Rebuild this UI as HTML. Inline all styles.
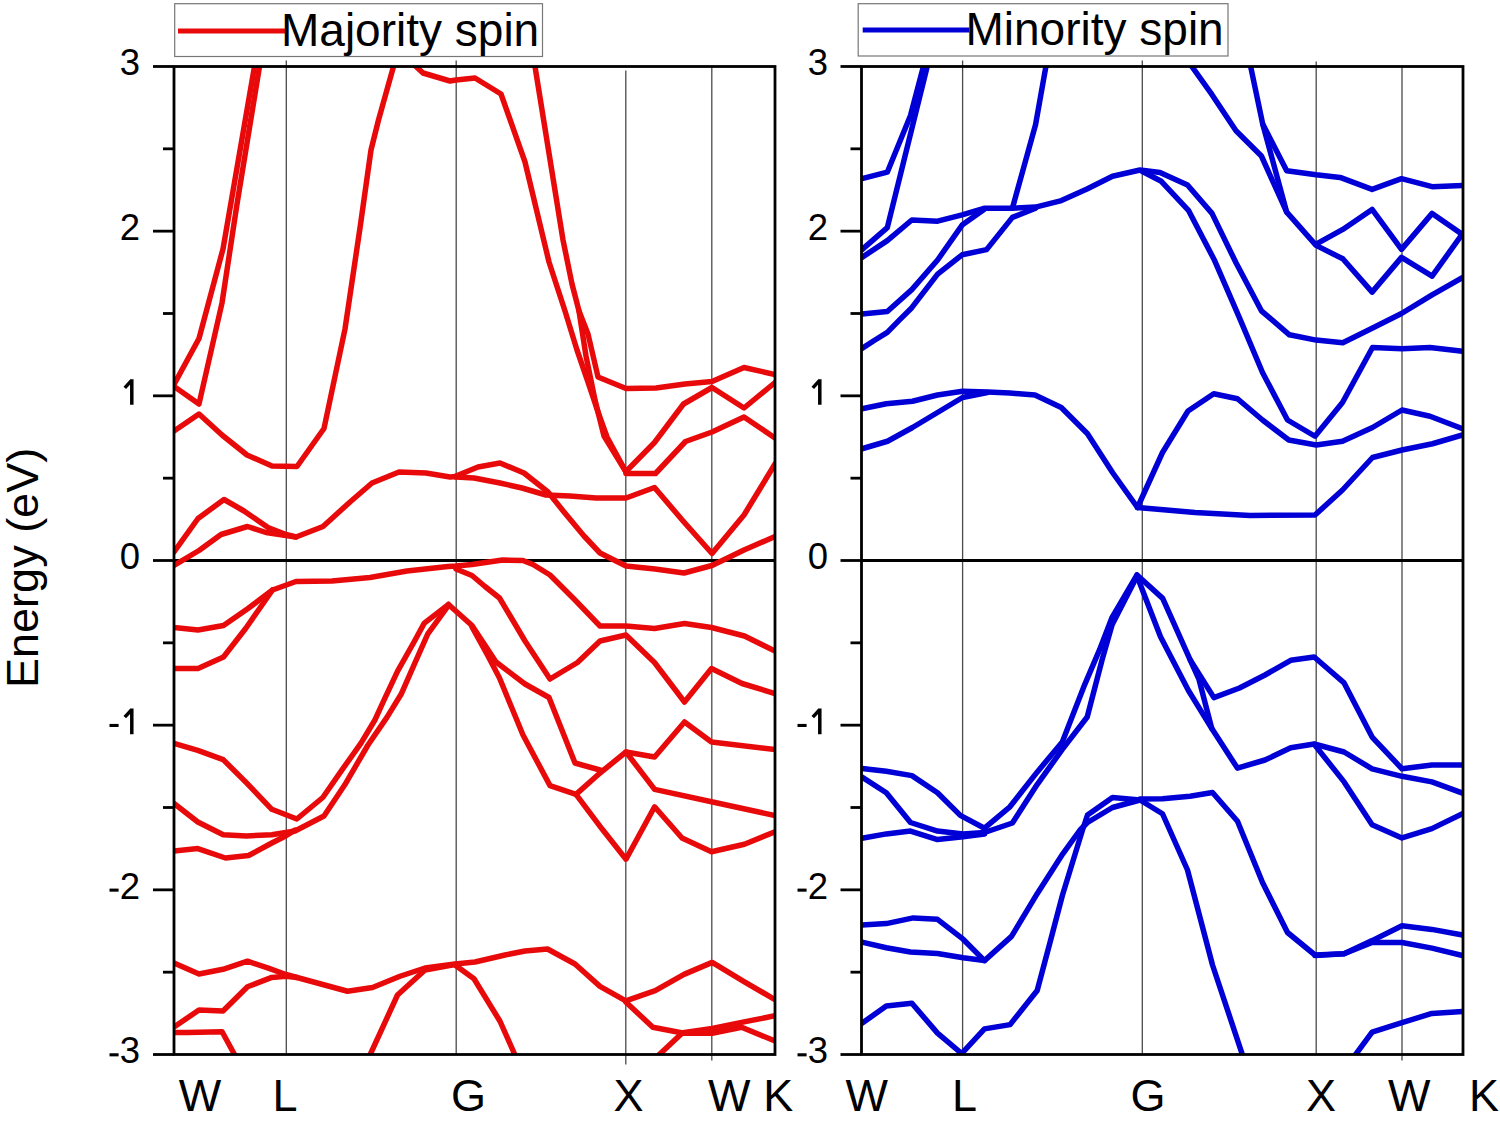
<!DOCTYPE html>
<html><head><meta charset="utf-8"><title>Band structure</title>
<style>html,body{margin:0;padding:0;background:#fff;}svg{display:block;}</style>
</head><body>
<svg width="1500" height="1124" viewBox="0 0 1500 1124">
<rect width="1500" height="1124" fill="#fff"/>
<g font-family="Liberation Sans, sans-serif" fill="#000">
<clipPath id="clip174"><rect x="174" y="66.5" width="601" height="988.0"/></clipPath>
<line x1="286.3" y1="60.5" x2="286.3" y2="1054.5" stroke="#4a4a4a" stroke-width="1.3"/>
<line x1="456.2" y1="60.5" x2="456.2" y2="1054.5" stroke="#4a4a4a" stroke-width="1.3"/>
<line x1="625.8" y1="70.5" x2="625.8" y2="1064.5" stroke="#4a4a4a" stroke-width="1.3"/>
<line x1="711.8" y1="66.5" x2="711.8" y2="1060.5" stroke="#4a4a4a" stroke-width="1.3"/>
<line x1="174" y1="560.5" x2="775" y2="560.5" stroke="#000" stroke-width="2.8"/>
<g clip-path="url(#clip174)" fill="none" stroke-width="5.5" stroke-linejoin="round" stroke-linecap="round">
<polyline points="174,384.5 199,338.5 223,249 254.5,66.5" stroke="#e80a0a"/>
<polyline points="174,386.5 199,404 222,303 237,204 259.5,66.5" stroke="#e80a0a"/>
<polyline points="174,431 199,414 222,435 247,455 272,466 297,466.5 324,428.5 345,329 360,228 371,150 378.5,120 393.5,66.5" stroke="#e80a0a"/>
<polyline points="416,66.5 423,73 450,81 456,80 475,78 501,94 525,162 549,262 565,311 577,350 588,382 597,409 607,437 626,472" stroke="#e80a0a"/>
<polyline points="535,66.5 563,240 572,284 579,311 588,334 598,377 626,388.5 656,388 685,384 712,381.5 744,367.5 775,374.5" stroke="#e80a0a"/>
<polyline points="579,311 586,356 595,400 604,436 626,472" stroke="#e80a0a"/>
<polyline points="626,471.5 654.5,442.5 683.5,404 712,387.5 744,408 775,382.5" stroke="#e80a0a"/>
<polyline points="626,473.5 655.5,473.5 685.5,441.5 712,432 744,417 775,438" stroke="#e80a0a"/>
<polyline points="174,552 198,518.5 224,499.5 244,511 268,527.5 286,534.5 296,537" stroke="#e80a0a"/>
<polyline points="174,565.5 199,550.5 221,534.5 247.5,526.5 266,532.5 286,535.5 296,537 323,526.5 350,502 372,483 399,472 426,473 450,477 456,476.5" stroke="#e80a0a"/>
<polyline points="456,476 478,467 500,463 524,473 548,492 564,512 584,536 600,553 626,566 655,569 684,573 712,565.5 744,550 775,536.5" stroke="#e80a0a"/>
<polyline points="456,477 474,478 500,483 522,488 546,495 570,496 596,498 626,498 654.5,487.5 683.5,521.5 712,553.5 744,515 775,464" stroke="#e80a0a"/>
<polyline points="174,627.5 198,630 223.5,625.5 248,608.5 272.5,590 296,581.5 332,581 370,577.5 407,571 448,566.5 456,566 472,564.5 502.5,560 523,560.5 533,564.5 550,575 575,600 600,626 626,626 654.5,628.5 684.5,623.5 711.5,627.5 744.5,636 775,651" stroke="#e80a0a"/>
<polyline points="174,668.5 198,668.5 223.5,657 246,628 272.5,590" stroke="#e80a0a"/>
<polyline points="456,569 472,575.5 485,586.5 499.5,598 512,619 525,641 550,679 577.5,662.5 600,641 626,635 654.5,662.5 684.5,702 711.5,668.5 742,683.5 775,693.5" stroke="#e80a0a"/>
<polyline points="448.5,604.5 424.3,623.1 413.6,642.7 397.6,671.1 383.4,701.4 374.9,720 361,743.1 341.3,770.9 322.8,797.5 296.8,819 271.8,809.3 246.3,782.7 223.2,759.6 197.8,750.3 174,743.5" stroke="#e80a0a"/>
<polyline points="448.5,605.5 427.8,633.8 413.6,665.8 401.1,694.3 386.9,717.4 368,745 344.8,784.8 324,816 295,831 271.8,834.7 246.3,836 223.2,834.7 197.8,822 174,803.5" stroke="#e80a0a"/>
<polyline points="174,851 197.8,848.6 225.5,858 248.6,855.5 271.8,843 285.6,836 294.9,830.1" stroke="#e80a0a"/>
<polyline points="448.5,604.5 472,625.5 496,662 525,684 549,697.5 575,763 600,770" stroke="#e80a0a"/>
<polyline points="472,627 488,656 499.5,678 523,735 550,785.6 576,794.4 600,773 626,752 654.6,757 684.5,722 711.5,742 775,749.5" stroke="#e80a0a"/>
<polyline points="576,794.4 602.3,829.3 626,859.2 654.6,806.8 682,838 711.5,851.7 744.4,844.2 775,831.7" stroke="#e80a0a"/>
<polyline points="626,752 654.6,789.4 711.5,801.8 775,815.5" stroke="#e80a0a"/>
<polyline points="174,963 199,974 223,969.3 247.5,961.2 268.3,968.2 286,974.5 320,983.75 347.5,991.25 372.5,987.5 400,976.25 425,968 455,964 475,962 505,955 525,951 547.5,949 575,964 600,986.4 625.8,1000.8 655.2,990.6 684,974.4 712.2,962.4 744,981.6 775,999.6" stroke="#e80a0a"/>
<polyline points="174,1027 199,1010 223,1011 247.5,986.7 271.8,977.4 286,976.3 297,977.4" stroke="#e80a0a"/>
<polyline points="174,1032.4 187.4,1032.4 222.1,1031.8 234.8,1055" stroke="#e80a0a"/>
<polyline points="370,1055 397.5,995 425,970 455,964.5" stroke="#e80a0a"/>
<polyline points="455,965 474,978.75 500,1021.25 515,1055" stroke="#e80a0a"/>
<polyline points="625.8,1002 652.8,1027.2 684,1033.2 712.2,1033.2 741.6,1027.2 775,1041" stroke="#e80a0a"/>
<polyline points="658.8,1055 682.8,1032.6 712.2,1028.4 741.6,1022.4 775,1015.8" stroke="#e80a0a"/>
</g>
<rect x="174" y="66.5" width="601" height="988.0" fill="none" stroke="#000" stroke-width="2.8"/>
<line x1="153" y1="1054.51" x2="174" y2="1054.51" stroke="#000" stroke-width="2.8"/>
<line x1="109.50" y1="1054.81" x2="118.60" y2="1054.81" stroke="#000" stroke-width="3.1"/>
<text x="140" y="1063.21" text-anchor="end" font-size="36.5">3</text>
<line x1="163" y1="972.17" x2="174" y2="972.17" stroke="#000" stroke-width="2.8"/>
<line x1="153" y1="889.84" x2="174" y2="889.84" stroke="#000" stroke-width="2.8"/>
<line x1="109.50" y1="890.14" x2="118.60" y2="890.14" stroke="#000" stroke-width="3.1"/>
<text x="140" y="898.54" text-anchor="end" font-size="36.5">2</text>
<line x1="163" y1="807.50" x2="174" y2="807.50" stroke="#000" stroke-width="2.8"/>
<line x1="153" y1="725.17" x2="174" y2="725.17" stroke="#000" stroke-width="2.8"/>
<line x1="109.50" y1="725.47" x2="118.60" y2="725.47" stroke="#000" stroke-width="3.1"/>
<path d="M131.80,708.57 V734.17 M131.60,709.77 L124.80,717.17" fill="none" stroke="#000" stroke-width="3.5"/>
<line x1="163" y1="642.84" x2="174" y2="642.84" stroke="#000" stroke-width="2.8"/>
<line x1="153" y1="560.50" x2="174" y2="560.50" stroke="#000" stroke-width="2.8"/>
<text x="140" y="569.20" text-anchor="end" font-size="36.5">0</text>
<line x1="163" y1="478.17" x2="174" y2="478.17" stroke="#000" stroke-width="2.8"/>
<line x1="153" y1="395.83" x2="174" y2="395.83" stroke="#000" stroke-width="2.8"/>
<path d="M131.80,379.23 V404.83 M131.60,380.43 L124.80,387.83" fill="none" stroke="#000" stroke-width="3.5"/>
<line x1="163" y1="313.50" x2="174" y2="313.50" stroke="#000" stroke-width="2.8"/>
<line x1="153" y1="231.16" x2="174" y2="231.16" stroke="#000" stroke-width="2.8"/>
<text x="140" y="239.86" text-anchor="end" font-size="36.5">2</text>
<line x1="163" y1="148.83" x2="174" y2="148.83" stroke="#000" stroke-width="2.8"/>
<line x1="153" y1="66.49" x2="174" y2="66.49" stroke="#000" stroke-width="2.8"/>
<text x="140" y="75.19" text-anchor="end" font-size="36.5">3</text>
<clipPath id="clip861"><rect x="861.5" y="66.5" width="601.5" height="988.0"/></clipPath>
<line x1="962.6" y1="60.5" x2="962.6" y2="1054.5" stroke="#4a4a4a" stroke-width="1.3"/>
<line x1="1142.3" y1="60.5" x2="1142.3" y2="1054.5" stroke="#4a4a4a" stroke-width="1.3"/>
<line x1="1316.2" y1="61.5" x2="1316.2" y2="1054.5" stroke="#4a4a4a" stroke-width="1.3"/>
<line x1="1402" y1="66.5" x2="1402" y2="1060.5" stroke="#4a4a4a" stroke-width="1.3"/>
<line x1="861.5" y1="560.5" x2="1463" y2="560.5" stroke="#000" stroke-width="2.8"/>
<g clip-path="url(#clip861)" fill="none" stroke-width="5.5" stroke-linejoin="round" stroke-linecap="round">
<polyline points="862,178.7 887.3,172.2 910.5,115.5 923.4,66.5" stroke="#0000d6"/>
<polyline points="862,249.6 887.3,227.7 927.2,66.5" stroke="#0000d6"/>
<polyline points="862,257.4 887.3,240.6 911.8,220 937.6,221.2 962.1,214.8 984,208.3 1009.8,208.3 1035.6,207.1 1061.4,200.6 1087,189 1112.5,176.25 1140,170 1160,172.5 1187.5,185 1212,213.4 1236,262.8 1261.4,310.8 1289.4,334.8 1316.1,340.1 1342.8,342.8 1372.1,328.2 1401.5,313.5 1432.1,294.8 1462.8,277.5" stroke="#0000d6"/>
<polyline points="862,314.1 887.3,311.5 911.8,289.6 937.6,260 962.1,225.1 984,209.6" stroke="#0000d6"/>
<polyline points="862,348.5 874.2,340.5 887.3,332.4 899.8,319.6 911.8,307.7 937.6,274.1 962.1,254.8 986.6,249.6 1012.4,217.4 1035.6,208.3" stroke="#0000d6"/>
<polyline points="1012.4,208.3 1035.6,124.5 1045.9,66.5" stroke="#0000d6"/>
<polyline points="1142,171.25 1161.3,181.3 1188.7,210.7 1214.2,259.7 1239.7,318.4 1262.5,372.5 1287.5,420 1315,436.25 1342.5,402.5 1372.5,347.5 1402,348.75 1430,347.5 1462.5,351.25" stroke="#0000d6"/>
<polyline points="1192,66.7 1212,94.7 1236,130.7 1261.4,156 1286.7,212.1 1316.1,245.4 1342.8,258.8 1372.1,292.1 1401.5,257.4 1432.1,276.1 1462.8,233.4" stroke="#0000d6"/>
<polyline points="1250.7,66.7 1262.7,124 1286.7,170.7 1316.1,174.7 1340.1,177.4 1372.1,189.4 1401.5,178.7 1432.1,186.7 1462.8,185.4" stroke="#0000d6"/>
<polyline points="1262.7,124 1286.7,212.1" stroke="#0000d6"/>
<polyline points="1316.1,244.1 1342.8,229.4 1372.1,209.4 1401.5,249.4 1432.1,213.4 1462.8,234.8" stroke="#0000d6"/>
<polyline points="862,408.75 886.25,403.75 912.5,401.25 937.5,395 962.5,391.25 987.5,392 1010,393 1035,395 1061.25,407.5 1087.5,433.75 1112.5,472.5 1137.5,507.5" stroke="#0000d6"/>
<polyline points="862,448.75 887.5,441.25 912.5,427.5 937.5,412.5 962.5,397.5 987.5,392.5" stroke="#0000d6"/>
<polyline points="1137.5,507.5 1162.5,452.5 1188,411 1213.75,393.75 1237.5,398.75 1262.5,420 1288.75,440 1316.25,445 1342.5,441.25 1372.5,427.5 1402,410 1430,416.25 1462.5,428.75" stroke="#0000d6"/>
<polyline points="1137.5,507.5 1195,512.5 1250,515.5 1315,515 1342.5,490 1372.5,457.5 1402,450 1432.5,443.75 1462.5,435" stroke="#0000d6"/>
<polyline points="1137,575 1112.1,617.3 1099.6,649.7 1084.7,684.6 1062.3,742 1037.3,771.9 1009.9,806.8 984.5,828.2 960.3,815.4 937.5,792.7 911.9,775.6 886.3,771.3 862,768.5" stroke="#0000d6"/>
<polyline points="1137,576.2 1112.1,624.8 1102.1,659.7 1087.2,717 1062.3,749.4 1037.3,784.3 1012.4,823 984.5,832.5 963.1,833.9 937.5,831.1 910.5,822.5 886.3,792.7 862,777" stroke="#0000d6"/>
<polyline points="862,838.2 886.3,833.9 910.5,831.1 937.5,839.6 963.1,836.8 984.5,833.9" stroke="#0000d6"/>
<polyline points="1137,575 1162.7,598.4 1190.4,660.3 1213.9,697.6 1239.5,688 1265,675 1290.7,660.3 1314.2,657 1344.1,682.9 1372.1,737.1 1402,768.8 1431.9,765.1 1462.5,765.1" stroke="#0000d6"/>
<polyline points="1137,576 1160.5,636.8 1188.3,690.2 1211.8,728.6 1237.4,768.1 1265,760 1290.7,747.8 1314.2,744 1344.1,752 1372.1,768.8 1402,776.3 1431.9,781.9 1462.5,793.1" stroke="#0000d6"/>
<polyline points="1190.4,660.3 1199,679.5 1211.8,728.6" stroke="#0000d6"/>
<polyline points="1314.2,744.3 1344.1,781.9 1372.1,824.8 1402,837.9 1431.9,828.6 1462.5,813.6" stroke="#0000d6"/>
<polyline points="862,925 886.3,923.6 913.3,917.9 937.5,919.3 963.1,939.2 984.5,960.6" stroke="#0000d6"/>
<polyline points="862,942.1 886.3,947.8 910.5,952 937.5,953.5 963.1,957.7 984.5,960.6 1011.5,936.4 1037.2,893.7 1062.8,853.8 1080,830 1087.5,822.5 1112.5,807.5 1140,800" stroke="#0000d6"/>
<polyline points="862,1023.2 886.3,1006.1 911.9,1003.3 937.5,1033.1 961.7,1053.5 984.5,1028.9 1010.1,1024.6 1037.2,990.5 1050,942.5 1062.5,895 1082.5,830 1087.5,815 1112.5,797.5 1140,800" stroke="#0000d6"/>
<polyline points="1140,800 1162.5,813.75 1187.5,870 1212.5,965 1242.5,1055" stroke="#0000d6"/>
<polyline points="1140,799 1162.5,798.75 1190,796.25 1212.5,792.5 1237.5,821.25 1262.5,882.5 1287.5,932.5 1315,955 1344,953.7 1372.1,940.6 1402,925.7 1431.9,929.4 1462.5,935" stroke="#0000d6"/>
<polyline points="1315,955.5 1344.1,953.7 1372.1,942.5 1402,942.5 1431.9,948.1 1462.5,955.5" stroke="#0000d6"/>
<polyline points="1355.3,1055 1372.1,1032.1 1402,1022.7 1431.9,1013.4 1462.5,1011.5" stroke="#0000d6"/>
</g>
<rect x="861.5" y="66.5" width="601.5" height="988.0" fill="none" stroke="#000" stroke-width="2.8"/>
<line x1="840.5" y1="1054.51" x2="861.5" y2="1054.51" stroke="#000" stroke-width="2.8"/>
<line x1="797.50" y1="1054.81" x2="806.60" y2="1054.81" stroke="#000" stroke-width="3.1"/>
<text x="828" y="1063.21" text-anchor="end" font-size="36.5">3</text>
<line x1="850.5" y1="972.17" x2="861.5" y2="972.17" stroke="#000" stroke-width="2.8"/>
<line x1="840.5" y1="889.84" x2="861.5" y2="889.84" stroke="#000" stroke-width="2.8"/>
<line x1="797.50" y1="890.14" x2="806.60" y2="890.14" stroke="#000" stroke-width="3.1"/>
<text x="828" y="898.54" text-anchor="end" font-size="36.5">2</text>
<line x1="850.5" y1="807.50" x2="861.5" y2="807.50" stroke="#000" stroke-width="2.8"/>
<line x1="840.5" y1="725.17" x2="861.5" y2="725.17" stroke="#000" stroke-width="2.8"/>
<line x1="797.50" y1="725.47" x2="806.60" y2="725.47" stroke="#000" stroke-width="3.1"/>
<path d="M819.80,708.57 V734.17 M819.60,709.77 L812.80,717.17" fill="none" stroke="#000" stroke-width="3.5"/>
<line x1="850.5" y1="642.84" x2="861.5" y2="642.84" stroke="#000" stroke-width="2.8"/>
<line x1="840.5" y1="560.50" x2="861.5" y2="560.50" stroke="#000" stroke-width="2.8"/>
<text x="828" y="569.20" text-anchor="end" font-size="36.5">0</text>
<line x1="850.5" y1="478.17" x2="861.5" y2="478.17" stroke="#000" stroke-width="2.8"/>
<line x1="840.5" y1="395.83" x2="861.5" y2="395.83" stroke="#000" stroke-width="2.8"/>
<path d="M819.80,379.23 V404.83 M819.60,380.43 L812.80,387.83" fill="none" stroke="#000" stroke-width="3.5"/>
<line x1="850.5" y1="313.50" x2="861.5" y2="313.50" stroke="#000" stroke-width="2.8"/>
<line x1="840.5" y1="231.16" x2="861.5" y2="231.16" stroke="#000" stroke-width="2.8"/>
<text x="828" y="239.86" text-anchor="end" font-size="36.5">2</text>
<line x1="850.5" y1="148.83" x2="861.5" y2="148.83" stroke="#000" stroke-width="2.8"/>
<line x1="840.5" y1="66.49" x2="861.5" y2="66.49" stroke="#000" stroke-width="2.8"/>
<text x="828" y="75.19" text-anchor="end" font-size="36.5">3</text>
<text x="200" y="1111" text-anchor="middle" font-size="45">W</text>
<text x="285" y="1111" text-anchor="middle" font-size="45">L</text>
<text x="468.5" y="1111" text-anchor="middle" font-size="45">G</text>
<text x="628.4" y="1111" text-anchor="middle" font-size="45">X</text>
<text x="729.3" y="1111" text-anchor="middle" font-size="45">W</text>
<text x="778.2" y="1111" text-anchor="middle" font-size="45">K</text>
<text x="866.7" y="1111" text-anchor="middle" font-size="45">W</text>
<text x="964.4" y="1111" text-anchor="middle" font-size="45">L</text>
<text x="1148" y="1111" text-anchor="middle" font-size="45">G</text>
<text x="1321.1" y="1111" text-anchor="middle" font-size="45">X</text>
<text x="1409.3" y="1111" text-anchor="middle" font-size="45">W</text>
<text x="1484" y="1111" text-anchor="middle" font-size="45">K</text>
<text transform="translate(38,567.9) rotate(-90)" text-anchor="middle" font-size="45">Energy (eV)</text>
<rect x="174.7" y="3.7" width="367.8" height="52.8" fill="none" stroke="#777" stroke-width="1.2"/>
<line x1="178" y1="31" x2="285" y2="31" stroke="#e80a0a" stroke-width="5"/>
<text x="281" y="45.7" font-size="46">Majority spin</text>
<rect x="858.2" y="3.7" width="369.8" height="52.3" fill="none" stroke="#777" stroke-width="1.2"/>
<line x1="862.7" y1="30" x2="969.3" y2="30" stroke="#0000d6" stroke-width="5"/>
<text x="965.5" y="44.8" font-size="46">Minority spin</text>
</g></svg>
</body></html>
